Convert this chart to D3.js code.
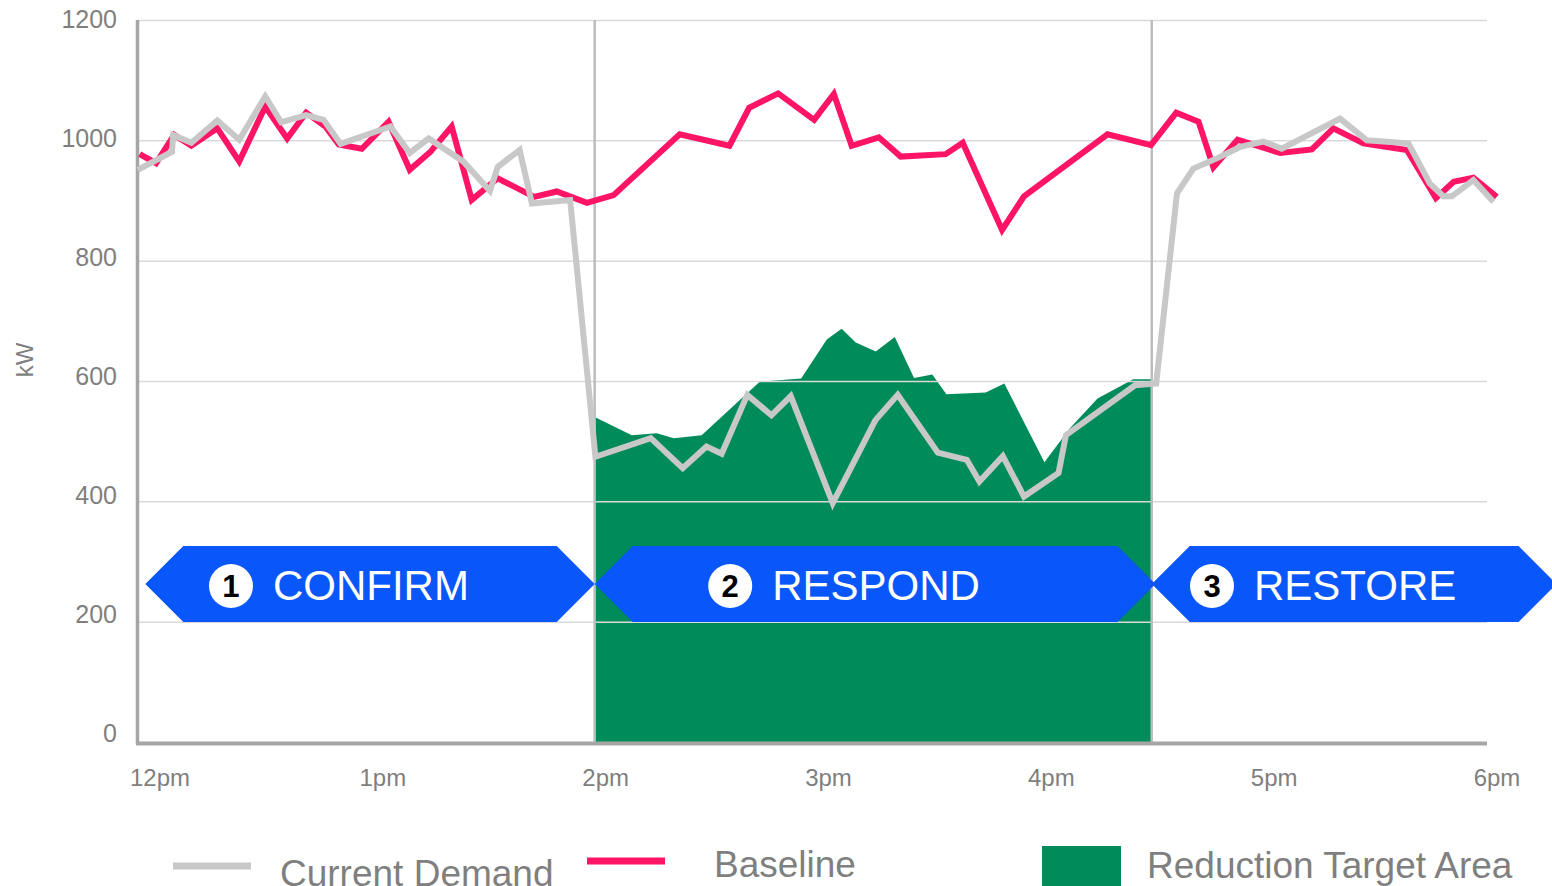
<!DOCTYPE html>
<html>
<head>
<meta charset="utf-8">
<script src="https://cdn.jsdelivr.net/npm/d3@7"></script>
<style>
  html, body { margin: 0; padding: 0; background: #fff; }
  svg { display: block; font-family: "Liberation Sans", Arial, sans-serif; }
</style>
</head>
<body>
<svg id="chart" width="1552" height="886"></svg>
<script>
// data, minutes after 12pm and kW
const baselineMin = [-2.5, 1.9, 6.8, 11.4, 18.4, 24.3, 31.3, 37.2, 42.3, 47.5, 51.1, 57.3, 64.5, 70.2, 75.8, 81.5, 86.9, 93.9, 103.7, 109.8, 117.9, 125.1, 142.9, 156.3, 161.6, 169.4, 179.1, 184.4, 189.2, 196.5, 202.4, 214.5, 219.1, 229.7, 235.6, 258.1, 269.8, 276.6, 282.6, 286.6, 293.1, 304.6, 313.1, 318.9, 327, 338.7, 346.5, 351.3, 356.6, 362.9]
const baselineKw = [977, 962, 1009, 991, 1020, 965, 1056, 1003, 1046, 1023, 993, 986, 1031, 951, 981, 1023, 901, 937, 906, 915, 896, 909, 1010, 991, 1054, 1078, 1034, 1077, 991, 1005, 973, 977, 996, 851, 907, 1010, 992, 1046, 1031, 955, 1001, 979, 985, 1020, 995, 984, 904, 931, 938, 906]

const demandMin = [-3, 6.2, 6.5, 11.4, 18.4, 24.3, 31.3, 35.6, 42.3, 47, 51.6, 65, 70.2, 75.3, 84.6, 91.8, 93.9, 99.8, 103.1, 113.4, 120.2, 135.1, 143.7, 150.1, 154.2, 161.1, 167.6, 172.8, 184.1, 195.6, 201.6, 212.4, 220.2, 223.6, 229.9, 235.6, 244.9, 246.9, 265.5, 271.2, 276.8, 281.2, 287.5, 293.8, 300.1, 305, 320.7, 327.9, 339.1, 344.9, 348.5, 350.8, 356.6, 362]
const demandKw = [951, 981, 1009, 996, 1033, 1001, 1073, 1030, 1042, 1034, 994, 1023, 979, 1003, 965, 916, 956, 984, 895, 901, 474, 505, 455, 491, 479, 577, 543, 575, 397, 535, 577, 481, 469, 433, 475, 408, 447, 510, 593, 596, 912, 953, 970, 989, 998, 986, 1036, 1000, 995, 928, 907, 907, 934, 898]

const targetMin = [120, 130, 136.7, 141.3, 148.8, 164.5, 175.6, 182.5, 186.5, 190.3, 195.7, 200.8, 206, 210.9, 214.7, 225.3, 230.3, 241.1, 247.9, 255.4, 265, 270]
const targetKw = [540, 510, 513, 505, 510, 599, 604, 669, 687, 664, 649, 673, 605, 611, 578, 581, 596, 465, 521, 571, 603, 603]

const xTickMin = [0, 60, 120, 180, 240, 300, 360]
const xTickLabels = ['12pm', '1pm', '2pm', '3pm', '4pm', '5pm', '6pm']
const yTicks = [0, 200, 400, 600, 800, 1000, 1200]
const eventMin = [120, 270]

const phaseNames = ['CONFIRM', 'RESPOND', 'RESTORE']
const phaseStart = [-1, 120, 270]
const phaseEnd = [120, 271, 379]

const legendNames = ['Current Demand', 'Baseline', 'Reduction Target Area']

const GRAY = '#c8c8c8', PINK = '#ff1466', GREEN = '#008b5a', BLUE = '#0957fa', TEXT = '#7f7f7f'

const svg = d3.select('#chart')

const x = d3.scaleLinear().domain([0, 360]).range([149, 1486])
const y = d3.scaleLinear().domain([0, 1200]).range([742, 20])
// tick labels sit on a slightly tighter spacing than the grid
const yLab = d3.scaleLinear().domain([0, 1200]).range([742, 28])

// reduction target area
const target = targetMin.map((m, i) => ({m: m, v: targetKw[i]}))
svg.append('path')
  .datum(target)
  .attr('fill', GREEN)
  .attr('d', d3.area().x(d => x(d.m)).y0(y(0)).y1(d => y(d.v)))

// grid
svg.append('g').selectAll('line')
  .data(yTicks.filter(d => d > 0))
  .enter().append('line')
  .attr('x1', 138).attr('x2', 1487)
  .attr('y1', d => y(d) + 0.5).attr('y2', d => y(d) + 0.5)
  .attr('stroke', '#d9d9d9').attr('stroke-width', 1.5)

// event boundaries
svg.append('g').selectAll('line')
  .data(eventMin)
  .enter().append('line')
  .attr('x1', d => x(d)).attr('x2', d => x(d))
  .attr('y1', y(1200)).attr('y2', y(0))
  .attr('stroke', '#bdbdbd').attr('stroke-width', 2.5)

// y labels
svg.append('g').selectAll('text')
  .data(yTicks)
  .enter().append('text')
  .attr('x', 117).attr('y', d => yLab(d))
  .attr('text-anchor', 'end')
  .attr('font-size', 25).attr('fill', TEXT)
  .text(d => d)

svg.append('text')
  .attr('transform', 'translate(33,360) rotate(-90)')
  .attr('text-anchor', 'middle')
  .attr('font-size', 24).attr('fill', TEXT)
  .text('kW')

// x labels
svg.append('g').selectAll('text')
  .data(xTickMin)
  .enter().append('text')
  .attr('x', (d) => x(d) + 11).attr('y', 786)
  .attr('text-anchor', 'middle')
  .attr('font-size', 24).attr('fill', TEXT)
  .text((d, i) => xTickLabels[i])

// axes lines
svg.append('line')
  .attr('x1', 137.5).attr('x2', 137.5).attr('y1', 20).attr('y2', 744)
  .attr('stroke', '#a6a6a6').attr('stroke-width', 3.5)
svg.append('line')
  .attr('x1', 136).attr('x2', 1487).attr('y1', 743.5).attr('y2', 743.5)
  .attr('stroke', '#a6a6a6').attr('stroke-width', 4)

// phase arrows
const phases = svg.append('g').selectAll('g')
  .data(phaseNames.map((n, i) => ({name: n, i: i, x0: x(phaseStart[i]), x1: x(phaseEnd[i])})))
  .enter().append('g')

const arrTop = 546, arrBot = 622, arrMid = (arrTop + arrBot) / 2, inset = 38
phases.append('path')
  .attr('fill', BLUE)
  .attr('d', d => `M${d.x0},${arrMid}L${d.x0 + inset},${arrTop}L${d.x1 - inset},${arrTop}L${d.x1},${arrMid}L${d.x1 - inset},${arrBot}L${d.x0 + inset},${arrBot}Z`)

phases.each(function(d) {
  const g = d3.select(this)
  const label = g.append('text')
    .attr('y', 600)
    .attr('font-size', 42).attr('fill', '#fff')
    .text(d.name)
  const w = 44 + 20 + label.node().getComputedTextLength()
  const start = (d.x0 + d.x1) / 2 - 31 - w / 2
  label.attr('x', start + 64)
  g.append('circle')
    .attr('cx', start + 22).attr('cy', 586).attr('r', 22)
    .attr('fill', '#fff')
  g.append('text')
    .attr('x', start + 22).attr('y', 597)
    .attr('text-anchor', 'middle')
    .attr('font-size', 31).attr('font-weight', 'bold').attr('fill', '#000')
    .text(d.i + 1)
})

// lines
const line = d3.line().x(d => x(d.m)).y(d => y(d.v))
svg.append('path')
  .datum(baselineMin.map((m, i) => ({m: m, v: baselineKw[i]})))
  .attr('fill', 'none').attr('stroke', PINK).attr('stroke-width', 6)
  .attr('stroke-linejoin', 'miter')
  .attr('d', line)
svg.append('path')
  .datum(demandMin.map((m, i) => ({m: m, v: demandKw[i]})))
  .attr('fill', 'none').attr('stroke', GRAY).attr('stroke-width', 6)
  .attr('stroke-linejoin', 'miter')
  .attr('d', line)

// legend
const leg = svg.append('g')
leg.append('line').attr('x1', 173).attr('x2', 251).attr('y1', 866).attr('y2', 866)
  .attr('stroke', GRAY).attr('stroke-width', 7)
leg.append('line').attr('x1', 587).attr('x2', 665).attr('y1', 861).attr('y2', 861)
  .attr('stroke', PINK).attr('stroke-width', 7)
leg.append('rect').attr('x', 1042).attr('y', 846).attr('width', 79).attr('height', 45)
  .attr('fill', GREEN)
leg.selectAll('text')
  .data(legendNames)
  .enter().append('text')
  .attr('x', (d, i) => [280, 714, 1147][i])
  .attr('y', (d, i) => [886, 877, 878][i])
  .attr('font-size', 37).attr('fill', TEXT)
  .text(d => d)
</script>
</body>
</html>
